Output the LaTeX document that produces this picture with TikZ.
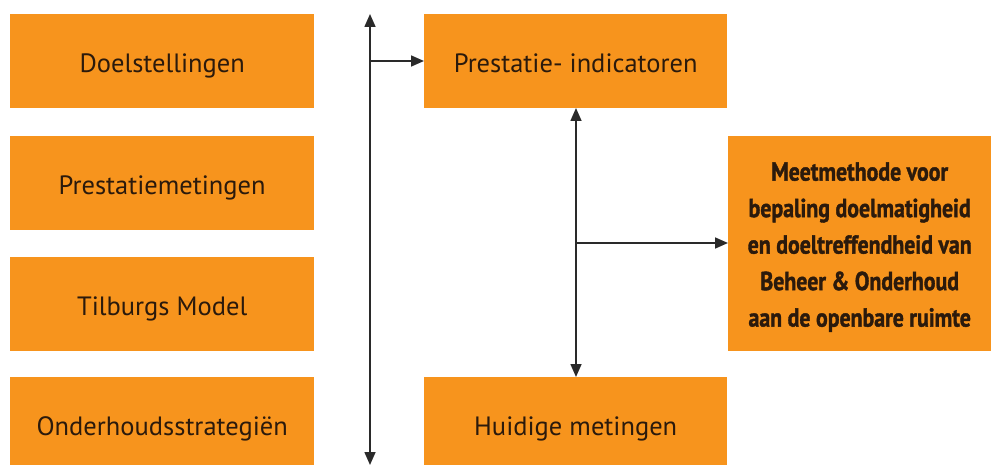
\documentclass[tikz,border=0pt]{standalone}
\usepackage{fontspec}
\setmainfont{PT Sans}
\newfontfamily\heavyfont[BoldFeatures={FakeBold=1.6}]{PT Sans}
\usetikzlibrary{arrows.meta}
\definecolor{boxorange}{HTML}{F7941D}
\definecolor{txt}{HTML}{2B1A0C}
\definecolor{ln}{HTML}{2A2A2A}
\newcommand{\condline}[1]{\scalebox{0.84}[1]{#1}}
\tikzset{
  obox/.style={fill=boxorange, draw=none, inner sep=0pt, anchor=north west, text=txt,
    font=\fontsize{26.5}{30}\selectfont, text height=22pt, text depth=0pt},
  conn/.style={draw=ln, line width=1.6pt, -{Triangle[length=13pt,width=11pt]}},
  dconn/.style={draw=ln, line width=1.6pt, {Triangle[length=13pt,width=11pt]}-{Triangle[length=13pt,width=11pt]}}
}
\begin{document}
\begin{tikzpicture}[x=1pt,y=-1pt]
\useasboundingbox (0,0) rectangle (991,465);
\node[obox, minimum width=304pt, minimum height=94pt] (d) at (10,14) {Doelstellingen};
\node[obox, minimum width=304pt, minimum height=94pt] (p) at (10,136) {Prestatiemetingen};
\node[obox, minimum width=304pt, minimum height=94pt] (t) at (10,257) {Tilburgs Model};
\node[obox, minimum width=304pt, minimum height=94pt] (o) at (10,377) {Onderhoudsstrategiën};
\node[obox, minimum width=303pt, minimum height=94pt] (pi) at (424,14) {Prestatie- indicatoren};
\node[obox, minimum width=303pt, minimum height=94pt] (h) at (424,377) {Huidige metingen};
\node[fill=boxorange, draw=none, inner sep=0pt, anchor=north west, text=txt,
  minimum width=263pt, minimum height=215pt, align=center,
  font=\fontsize{26}{36.5}\selectfont\heavyfont\bfseries] (m) at (728,136)
  {\rule{0pt}{25pt}\condline{Meetmethode voor}\\ \condline{bepaling doelmatigheid}\\ \condline{en doeltreffendheid van}\\ \condline{Beheer \& Onderhoud}\\ \condline{aan de openbare ruimte}};
\coordinate (vt) at (370,14);
\coordinate (vb) at (370,465);
\coordinate (vj) at (370,61);
\draw[dconn] (vb) -- (vt);
\draw[conn] (vj) -- (vj -| pi.west);
\coordinate (mt) at (576,108);
\coordinate (mb) at (576,377);
\coordinate (mj) at (576,243);
\draw[dconn] (mt) -- (mb);
\draw[conn] (mj) -- (mj -| m.west);
\end{tikzpicture}
\end{document}
